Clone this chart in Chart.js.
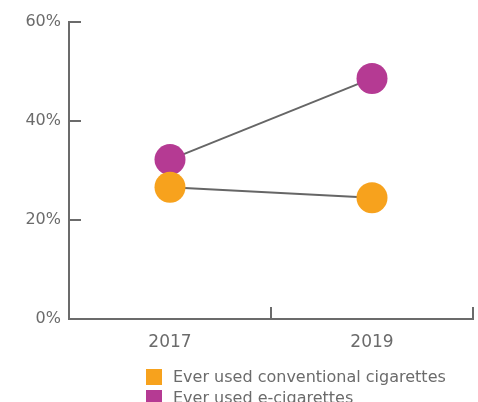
<!DOCTYPE html>
<html>
<head>
<meta charset="utf-8">
<script src="https://cdn.jsdelivr.net/npm/chart.js@4"></script>
<style>
  html, body { margin: 0; padding: 0; background: #fff; }
  #wrap { position: relative; width: 478px; height: 402px; overflow: hidden; }
  #legend { position: absolute; left: 146px; top: 366px; font-family: 'DejaVu Sans', sans-serif; font-size: 16px; color: #6b6b6b; }
  #legend .item { display: flex; align-items: center; height: 21px; }
  #legend .box { width: 16px; height: 16px; margin-right: 11px; }
</style>
</head>
<body>
<div id="wrap">
  <canvas id="chart"></canvas>
  <div id="legend"></div>
</div>
<script>
const years = ['2017', '2019'];
const conventional = [26.6, 24.5];
const ecig = [32.2, 48.6];
const seriesNames = ['Ever used conventional cigarettes', 'Ever used e-cigarettes'];
const seriesColors = ['#f7a21d', '#b53a93'];
const yTicks = [0, 20, 40, 60];

const axisColor = '#6b6b6b';
const fontFamily = 'DejaVu Sans';

// ticks in this chart point into the plot, so draw them by hand
const innerTicks = {
  id: 'innerTicks',
  afterDraw(chart) {
    const { ctx, chartArea, scales } = chart;
    const x = scales.x, y = scales.y;
    ctx.save();
    ctx.strokeStyle = axisColor;
    ctx.lineWidth = 2;
    ctx.beginPath();
    yTicks.forEach(v => {
      const py = y.getPixelForValue(v);
      ctx.moveTo(chartArea.left, py);
      ctx.lineTo(chartArea.left + 12, py);
    });
    for (let i = 0; i < years.length; i++) {
      const px = i < years.length - 1
        ? (x.getPixelForValue(i) + x.getPixelForValue(i + 1)) / 2
        : chartArea.right;
      ctx.moveTo(px, chartArea.bottom);
      ctx.lineTo(px, chartArea.bottom - 12);
    }
    ctx.stroke();
    ctx.restore();
  }
};

const datasets = [conventional, ecig].map((d, i) => ({
  label: seriesNames[i],
  data: d,
  borderColor: '#666',
  borderWidth: 2,
  backgroundColor: seriesColors[i],
  pointBackgroundColor: seriesColors[i],
  pointBorderWidth: 0,
  pointRadius: 15.5,
  pointHoverRadius: 15.5,
  tension: 0
}));

new Chart(document.getElementById('chart'), {
  type: 'line',
  data: { labels: years, datasets },
  options: {
    responsive: true,
    maintainAspectRatio: false,
    animation: false,
    layout: { autoPadding: false, padding: { top: 22, right: 5, left: 0, bottom: 0 } },
    plugins: { legend: { display: false }, tooltip: { enabled: false } },
    scales: {
      x: {
        offset: true,
        grid: { offset: true, drawOnChartArea: false, drawTicks: false },
        border: { display: true, color: axisColor, width: 2 },
        ticks: { color: axisColor, padding: 13, font: { family: fontFamily, size: 17 } },
        afterFit(s) { s.height = 83; }
      },
      y: {
        min: 0,
        max: 60,
        grid: { drawOnChartArea: false, drawTicks: false },
        border: { display: true, color: axisColor, width: 2 },
        ticks: {
          stepSize: 20,
          padding: 8,
          color: axisColor,
          font: { family: fontFamily, size: 16 },
          callback: v => v + '%'
        },
        afterFit(s) { s.width = 69; }
      }
    }
  },
  plugins: [innerTicks]
});

const legend = document.getElementById('legend');
seriesNames.forEach((name, i) => {
  const item = document.createElement('div');
  item.className = 'item';
  item.innerHTML = `<span class="box" style="background:${seriesColors[i]}"></span><span>${name}</span>`;
  legend.appendChild(item);
});
</script>
</body>
</html>
